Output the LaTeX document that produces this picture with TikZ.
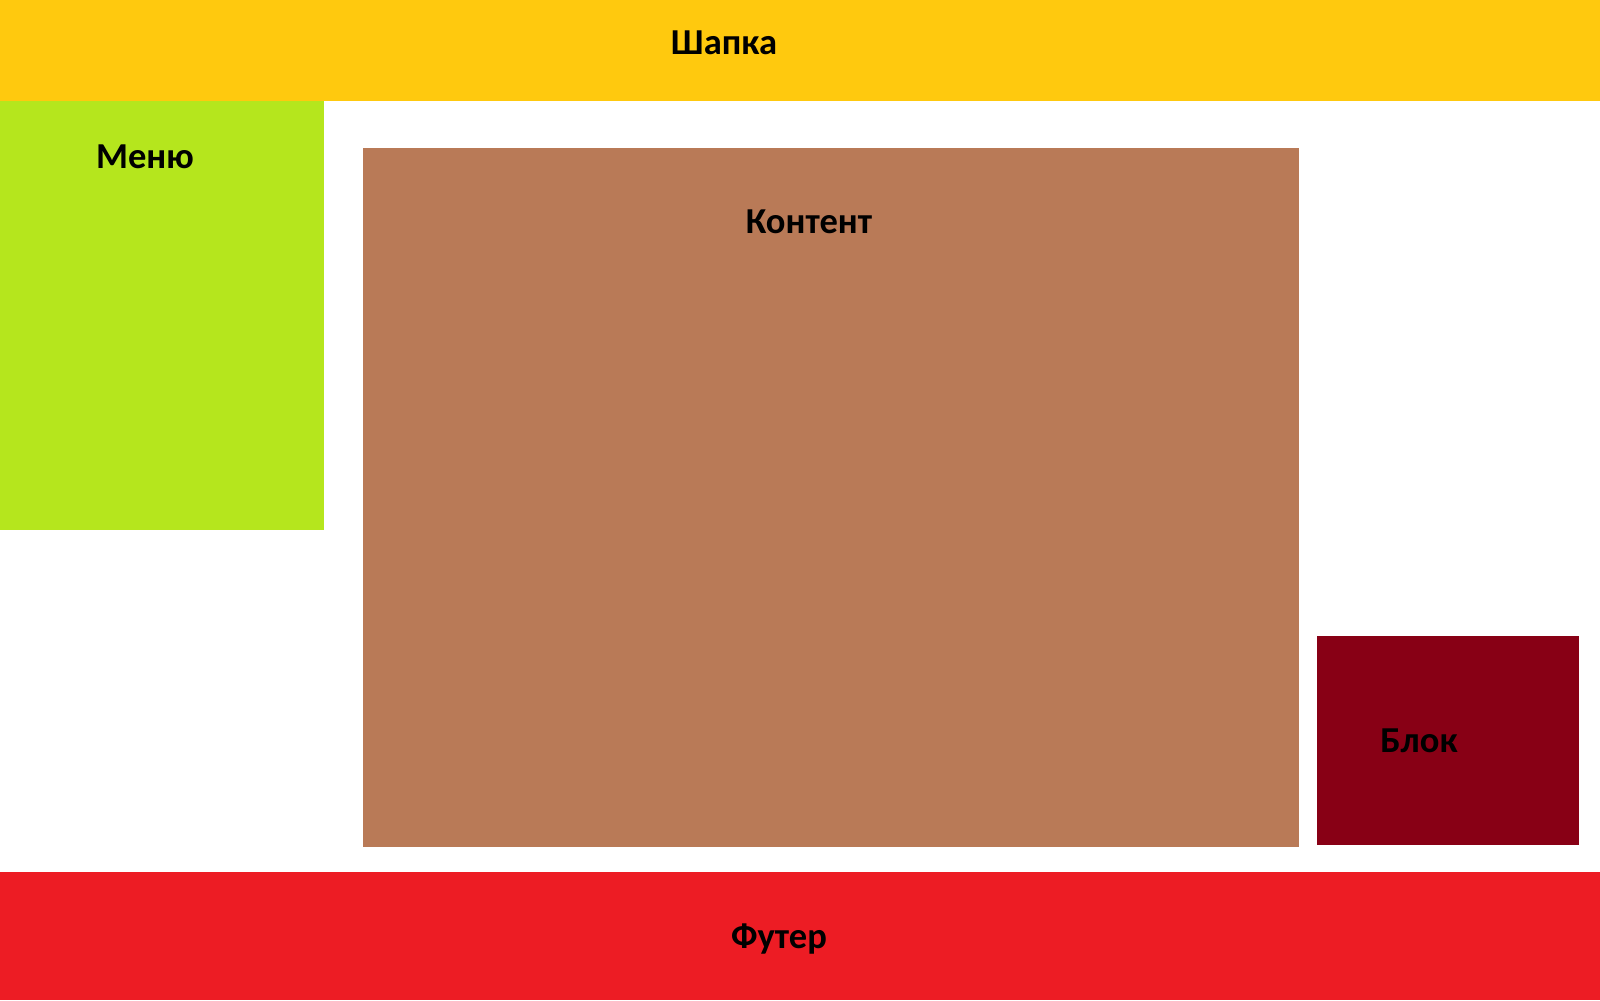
\documentclass[tikz,border=0pt]{standalone}
\usepackage{fontspec}
\setmainfont{Carlito}
\usetikzlibrary{positioning}
\definecolor{hdryellow}{HTML}{FFC90E}
\definecolor{menugreen}{HTML}{B5E61D}
\definecolor{cntbrown}{HTML}{B97A57}
\definecolor{blkred}{HTML}{880015}
\definecolor{ftrred}{HTML}{ED1C24}
\tikzset{
  area/.style={draw=none,rectangle,inner sep=0pt,outer sep=0pt,anchor=north west},
  lbl/.style={font=\fontsize{10.4pt}{12pt}\selectfont\bfseries,anchor=base,inner sep=0pt}
}

\begin{document}
\begin{tikzpicture}[x=0.1mm,y=-0.1mm]
  \useasboundingbox[fill=white] (0,0) rectangle (1600,1000);

  % page areas
  \node[area,fill=hdryellow,minimum width=160mm,minimum height=10.1mm] (header) at (0,0) {};
  \node[area,fill=menugreen,minimum width=32.4mm,minimum height=42.9mm] (menu) at (0,101) {};
  \node[area,fill=cntbrown,minimum width=93.6mm,minimum height=69.9mm] (content) at (363,148) {};
  \node[area,fill=blkred,minimum width=26.2mm,minimum height=20.9mm] (block) at (1317,636) {};
  \node[area,fill=ftrred,minimum width=160mm,minimum height=12.8mm] (footer) at (0,872) {};

  % labels
  \node[lbl] (headerlbl) at (724,54) {Шапка};
  \node[lbl] (menulbl) at (145,168) {Меню};
  \node[lbl] (contentlbl) at (809,233) {Контент};
  \node[lbl] (blocklbl) at (1419,752) {Блок};
  \node[lbl] (footerlbl) at (779,948) {Футер};
\end{tikzpicture}
\end{document}
